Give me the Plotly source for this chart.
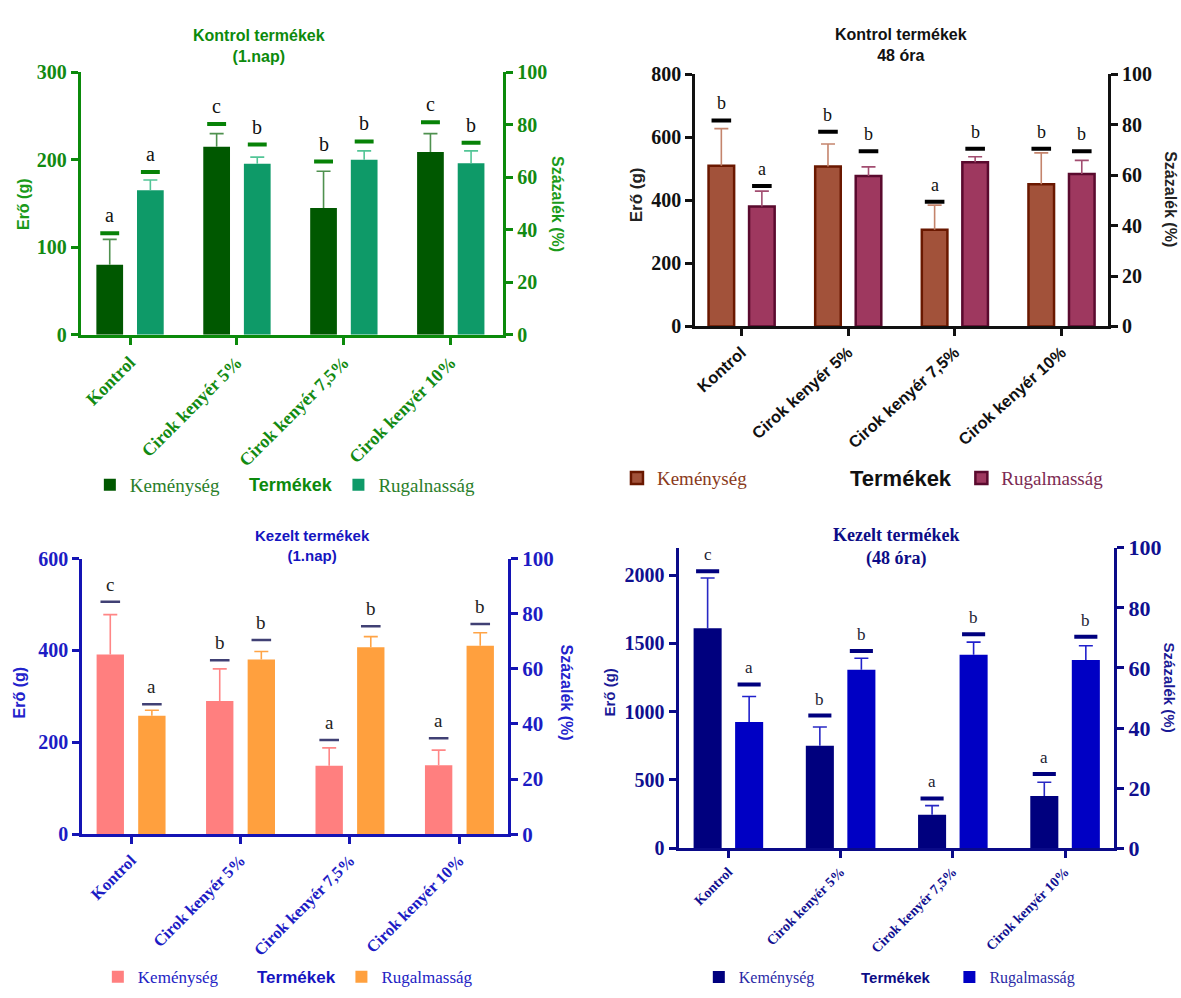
import plotly.graph_objects as go

W, H = 1181, 998
SERIF = "Liberation Serif, Times New Roman, serif"
SANS = "Liberation Sans, Arial, sans-serif"

categories = ["Kontrol", "Cirok kenyér 5%", "Cirok kenyér 7,5%", "Cirok kenyér 10%"]

# Kontrol termékek (1.nap)
a_kem = [80, 215, 145, 209]
a_kem_sd = [29, 15, 42, 21]
a_kem_sig = [116, 241, 198, 243]
a_kem_let = ["a", "c", "b", "c"]
a_rug = [55.1, 65.2, 66.7, 65.4]
a_rug_sd = [3.9, 2.5, 3.4, 4.7]
a_rug_sig = [62.0, 72.5, 73.7, 73.2]
a_rug_let = ["a", "b", "b", "b"]

# Kontrol termékek (48 óra)
b_kem = [510, 508, 307, 451]
b_kem_sd = [118, 71, 78, 100]
b_kem_sig = [654, 618, 396, 564]
b_kem_let = ["b", "b", "a", "b"]
b_rug = [47.6, 59.7, 65.1, 60.5]
b_rug_sd = [6.1, 3.6, 2.2, 5.4]
b_rug_sig = [55.7, 69.5, 70.5, 69.5]
b_rug_let = ["a", "b", "b", "b"]

# Kezelt termékek (1.nap)
c_kem = [391, 290, 149, 150]
c_kem_sd = [87, 70, 39, 33]
c_kem_sig = [506, 379, 205, 209]
c_kem_let = ["c", "b", "a", "a"]
c_rug = [43.0, 63.4, 67.8, 68.4]
c_rug_sd = [2.0, 2.9, 3.9, 4.7]
c_rug_sig = [47.2, 70.5, 75.5, 76.3]
c_rug_let = ["a", "b", "b", "b"]

# Kezelt termékek (48 óra)
d_kem = [1610, 750, 245, 383]
d_kem_sd = [368, 138, 67, 100]
d_kem_sig = [2028, 971, 364, 543]
d_kem_let = ["c", "b", "a", "a"]
d_rug = [42.0, 59.4, 64.4, 62.6]
d_rug_sd = [8.5, 3.8, 4.2, 4.8]
d_rug_sig = [54.5, 65.6, 71.2, 70.4]
d_rug_let = ["a", "b", "b", "b"]


def fx(p):
    return p / W


def fy(p):
    return 1 - p / H


panels = [
    dict(
        kem=a_kem, kem_sd=a_kem_sd, kem_sig=a_kem_sig, kem_let=a_kem_let,
        rug=a_rug, rug_sd=a_rug_sd, rug_sig=a_rug_sig, rug_let=a_rug_let,
        names=("Keménység", "Rugalnasság"),
        title="<b>Kontrol termékek<br>(1.nap)</b>", title_font=dict(family=SANS, size=16, color="#0c8a0c"),
        title_xy=(257, 35),
        box=(79, 502, 62, 331), xrange=(-0.46, 3.49), ymax=300, dtick=100,
        axis_color="#0b8a0b", tick_color="#128a12",
        ytick_size=20, ytick2_size=20,
        xtick_font=dict(family=SERIF, size=18, color="#128a12", weight="bold"), xtick_angle=-45,
        ytitle_xy=(21, 197), ytitle_font=dict(family=SANS, size=16, color="#1a9a1a"),
        y2title_xy=(557, 197), y2title_font=dict(family=SANS, size=16, color="#1a9a1a"),
        kem_color="#005800", rug_color="#0e9a68", bar_line=None,
        kem_err="#4f914f", rug_err="#52c596",
        sig_color="#078207", sig_size=13.5, sig_width=4,
        letter_font=dict(family=SERIF, size=20, color="#111111"),
        leg_y=485, leg_kem_x=108, leg_rug_x=357,
        leg_font=dict(family=SERIF, size=19, color="#2a7e2a"),
        leg_name_colors=(None, None),
        term_xy=(289, 485), term_font=dict(family=SANS, size=18, color="#0c8a0c"),
        offset=0.19, width=0.25,
    ),
    dict(
        kem=b_kem, kem_sd=b_kem_sd, kem_sig=b_kem_sig, kem_let=b_kem_let,
        rug=b_rug, rug_sd=b_rug_sd, rug_sig=b_rug_sig, rug_let=b_rug_let,
        names=("Keménység", "Rugalmasság"),
        title="<b>Kontrol termékek<br>48 óra</b>", title_font=dict(family=SANS, size=16, color="#111111"),
        title_xy=(901, 34),
        box=(694.5, 1108, 64, 322.5), xrange=(-0.434, 3.437), ymax=800, dtick=200,
        axis_color="#111111", tick_color="#111111",
        ytick_size=20, ytick2_size=20,
        xtick_font=dict(family=SANS, size=16.5, color="#111111", weight="bold"), xtick_angle=-42,
        ytitle_xy=(635, 187), ytitle_font=dict(family=SANS, size=17, color="#222222"),
        y2title_xy=(1171, 192), y2title_font=dict(family=SANS, size=16, color="#222222"),
        kem_color="#a2523a", rug_color="#9e385f", bar_line=("#6a1800", "#5a0a2e"),
        kem_err="#c4846c", rug_err="#a24d70",
        sig_color="#000000", sig_size=14, sig_width=4,
        letter_font=dict(family=SERIF, size=18, color="#111111"),
        leg_y=478, leg_kem_x=636, leg_rug_x=981,
        leg_font=dict(family=SERIF, size=19, color="#8a3a20"),
        leg_name_colors=("#8a3a20", "#7c2a52"),
        term_xy=(901, 478), term_font=dict(family=SANS, size=22, color="#111111"),
        offset=0.19, width=0.24,
    ),
    dict(
        kem=c_kem, kem_sd=c_kem_sd, kem_sig=c_kem_sig, kem_let=c_kem_let,
        rug=c_rug, rug_sd=c_rug_sd, rug_sig=c_rug_sig, rug_let=c_rug_let,
        names=("Keménység", "Rugalmasság"),
        title="<b>Kezelt termékek<br>(1.nap)</b>", title_font=dict(family=SANS, size=15, color="#1515c0"),
        title_xy=(311, 547),
        box=(80.4, 507, 560.7, 843.3), xrange=(-0.446, 3.445), ymax=600, dtick=200,
        axis_color="#1414b4", tick_color="#1c1cc4",
        ytick_size=20, ytick2_size=21,
        xtick_font=dict(family=SERIF, size=16.5, color="#1c1cc4", weight="bold"), xtick_angle=-45,
        ytitle_xy=(18, 698), ytitle_font=dict(family=SANS, size=16, color="#2222cc"),
        y2title_xy=(565, 698), y2title_font=dict(family=SANS, size=16, color="#2222cc"),
        kem_color="#ff7f7f", rug_color="#ffa03e", bar_line=None,
        kem_err="#ff8686", rug_err="#ffa446",
        sig_color="#404074", sig_size=14, sig_width=2.5,
        letter_font=dict(family=SERIF, size=19, color="#222222"),
        leg_y=990, leg_kem_x=116, leg_rug_x=360,
        leg_font=dict(family=SERIF, size=17, color="#2222c4"),
        leg_name_colors=(None, None),
        term_xy=(295, 990), term_font=dict(family=SANS, size=17, color="#1515c0"),
        offset=0.19, width=0.25,
    ),
    dict(
        kem=d_kem, kem_sd=d_kem_sd, kem_sig=d_kem_sig, kem_let=d_kem_let,
        rug=d_rug, rug_sd=d_rug_sd, rug_sig=d_rug_sig, rug_let=d_rug_let,
        names=("Keménység", "Rugalmasság"),
        title="<b>Kezelt termékek<br>(48 óra)</b>", title_font=dict(family=SERIF, size=18, color="#0c0c86"),
        title_xy=(896, 549),
        box=(677.7, 1114, 549.5, 857.7), xrange=(-0.444, 3.437), ymax=2200, dtick=500,
        axis_color="#0a0a88", tick_color="#101090",
        ytick_size=20, ytick2_size=22,
        xtick_font=dict(family=SERIF, size=14, color="#101090", weight="bold"), xtick_angle=-45,
        ytitle_xy=(609, 698), ytitle_font=dict(family=SANS, size=15, color="#1a1a96"),
        y2title_xy=(1169, 693), y2title_font=dict(family=SANS, size=15, color="#1a1a96"),
        kem_color="#00007e", rug_color="#0000c4", bar_line=None,
        kem_err="#2828c4", rug_err="#2020cc",
        sig_color="#00007e", sig_size=16.5, sig_width=4,
        letter_font=dict(family=SERIF, size=17, color="#222233"),
        leg_y=990, leg_kem_x=718, leg_rug_x=969,
        leg_font=dict(family=SERIF, size=16, color="#2a2aa6"),
        leg_name_colors=(None, None),
        term_xy=(896, 990), term_font=dict(family=SANS, size=15, color="#0c0c86"),
        offset=0.185, width=0.25,
    ),
]

fig = go.Figure()
layout = dict(
    width=W, height=H, autosize=False,
    margin=dict(l=0, r=0, t=0, b=0),
    paper_bgcolor="white", plot_bgcolor="white",
    barmode="overlay", hovermode=False,
)
annotations = []

idx = list(range(len(categories)))

for p_i, p in enumerate(panels):
    n = p_i + 1
    xid = "x" if n == 1 else f"x{n}"
    y_left = "y" if n == 1 else f"y{2 * n - 1}"
    y_right = f"y{2 * n}"
    xkey = "xaxis" if n == 1 else f"xaxis{n}"
    ylkey = "yaxis" if n == 1 else f"yaxis{2 * n - 1}"
    yrkey = f"yaxis{2 * n}"
    leg_k = "legend" if n == 1 else f"legend{2 * n - 1}"
    leg_r = f"legend{2 * n}"

    x0, x1, ytop, ybot = p["box"]
    axc = p["axis_color"]
    ytickfont = dict(family=SERIF, size=p["ytick_size"], color=p["tick_color"], weight="bold")
    ytickfont2 = dict(family=SERIF, size=p["ytick2_size"], color=p["tick_color"], weight="bold")

    layout[xkey] = dict(
        domain=[fx(x0), fx(x1)], anchor=y_left, range=list(p["xrange"]),
        tickmode="array", tickvals=idx, ticktext=categories,
        tickangle=p["xtick_angle"], tickfont=p["xtick_font"],
        ticks="outside", ticklen=7, tickwidth=3, tickcolor=axc,
        showline=True, linewidth=3, linecolor=axc,
        showgrid=False, zeroline=False, fixedrange=True,
    )
    layout[ylkey] = dict(
        domain=[fy(ybot), fy(ytop)], anchor=xid, range=[0, p["ymax"]], dtick=p["dtick"],
        tickfont=ytickfont, ticks="outside", ticklen=7, tickwidth=3, tickcolor=axc,
        showline=True, linewidth=3, linecolor=axc,
        showgrid=False, zeroline=False, fixedrange=True,
    )
    layout[yrkey] = dict(
        domain=[fy(ybot), fy(ytop)], anchor=xid, overlaying=y_left, side="right",
        range=[0, 100], dtick=20,
        tickfont=ytickfont2, ticks="outside", ticklen=7, tickwidth=3, tickcolor=axc,
        showline=True, linewidth=3, linecolor=axc,
        showgrid=False, zeroline=False, fixedrange=True,
    )

    off, wid = p["offset"], p["width"]
    xk = [i - off for i in idx]
    xr = [i + off for i in idx]

    names = list(p["names"])
    for j, col in enumerate(p["leg_name_colors"]):
        if col:
            names[j] = f"<span style='color:{col}'>{names[j]}</span>"

    bl = p["bar_line"]
    series = (
        (xk, p["kem"], p["kem_sd"], p["kem_sig"], p["kem_let"], y_left, names[0], leg_k,
         p["kem_color"], bl[0] if bl else None, p["kem_err"]),
        (xr, p["rug"], p["rug_sd"], p["rug_sig"], p["rug_let"], y_right, names[1], leg_r,
         p["rug_color"], bl[1] if bl else None, p["rug_err"]),
    )
    for xs, mean, sd, sig, lets, yax, name, leg, col, edge, errc in series:
        # columns with an upward-only SD stem
        fig.add_trace(go.Bar(
            x=xs, y=mean, width=wid, xaxis=xid, yaxis=yax,
            name=name, legend=leg,
            marker=dict(color=col, line=dict(color=edge or col, width=2.5 if edge else 0)),
            error_y=dict(type="data", symmetric=False, array=sd, arrayminus=[0] * len(sd),
                         color=errc, thickness=1.6, width=0),
        ))
        # cap on top of each SD stem
        fig.add_trace(go.Scatter(
            x=xs, y=[m + s for m, s in zip(mean, sd)], xaxis=xid, yaxis=yax,
            mode="markers", showlegend=False,
            marker=dict(symbol="line-ew", size=10, line=dict(color=errc, width=1.6)),
        ))
        # significance bar above each column
        fig.add_trace(go.Scatter(
            x=xs, y=sig, xaxis=xid, yaxis=yax, mode="markers", showlegend=False,
            marker=dict(symbol="line-ew", size=p["sig_size"],
                        line=dict(color=p["sig_color"], width=p["sig_width"])),
        ))
        # significance letters
        for xv, yv, t in zip(xs, sig, lets):
            annotations.append(dict(
                x=xv, y=yv, xref=xid, yref=yax, text=t, showarrow=False,
                yanchor="bottom", yshift=5, font=p["letter_font"],
            ))

    # legends, one per series
    for key, lx in ((leg_k, p["leg_kem_x"]), (leg_r, p["leg_rug_x"])):
        layout[key] = dict(
            x=fx(lx - 20), y=fy(p["leg_y"]), xanchor="left", yanchor="middle",
            orientation="h", font=p["leg_font"], bgcolor="rgba(0,0,0,0)",
            borderwidth=0, itemclick=False, itemdoubleclick=False,
        )

    tx, ty = p["title_xy"]
    annotations.append(dict(x=fx(tx), y=fy(ty), xref="paper", yref="paper", text=p["title"],
                            showarrow=False, xanchor="center", yanchor="middle",
                            font=p["title_font"]))
    lx, ly = p["ytitle_xy"]
    annotations.append(dict(x=fx(lx), y=fy(ly), xref="paper", yref="paper", text="<b>Erő (g)</b>",
                            showarrow=False, textangle=-90, xanchor="center", yanchor="middle",
                            font=p["ytitle_font"]))
    rx, ry = p["y2title_xy"]
    annotations.append(dict(x=fx(rx), y=fy(ry), xref="paper", yref="paper",
                            text="<b>Százalék (%)</b>", showarrow=False, textangle=90,
                            xanchor="center", yanchor="middle", font=p["y2title_font"]))
    gx, gy = p["term_xy"]
    annotations.append(dict(x=fx(gx), y=fy(gy), xref="paper", yref="paper", text="<b>Termékek</b>",
                            showarrow=False, xanchor="center", yanchor="middle",
                            font=p["term_font"]))

layout["annotations"] = annotations
fig.update_layout(**layout)
fig.write_html("out.html")
